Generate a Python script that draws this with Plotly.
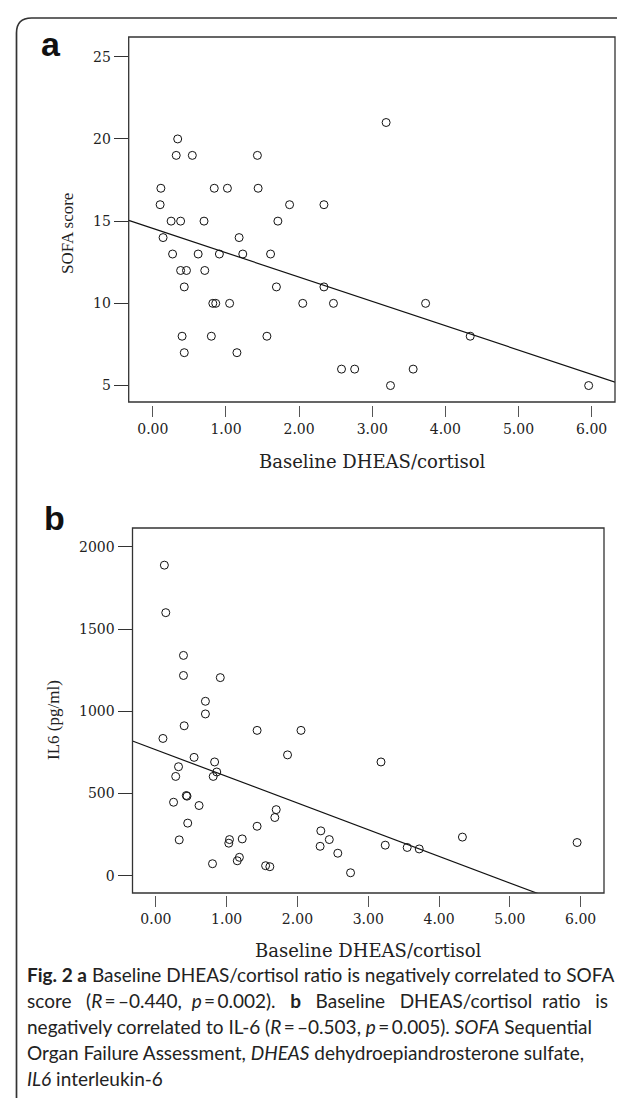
import plotly.graph_objects as go

W, H = 625, 1098

# ---------------- data: panel a ----------------
ratio_a = [3.19, 0.34, 0.32, 0.54, 1.43, 0.11, 0.84, 1.02, 1.44, 0.10, 1.87, 2.34,
           0.25, 0.38, 0.70, 1.71, 0.14, 1.18, 0.27, 0.62, 0.91, 1.23, 1.61,
           0.38, 0.46, 0.71, 0.43, 1.69, 2.34, 0.82, 0.86, 1.05, 2.05, 2.47, 3.73,
           0.40, 0.80, 1.56, 4.34, 0.43, 1.15, 2.58, 2.76, 3.56, 3.25, 5.96]
sofa = [21, 20, 19, 19, 19, 17, 17, 17, 17, 16, 16, 16,
        15, 15, 15, 15, 14, 14, 13, 13, 13, 13, 13,
        12, 12, 12, 11, 11, 11, 10, 10, 10, 10, 10, 10,
        8, 8, 8, 8, 7, 7, 6, 6, 6, 5, 5]
fit_a = [14.56, -1.48]  # intercept, slope

# ---------------- data: panel b ----------------
ratio_b = [0.12, 0.14, 0.39, 0.39, 0.91, 0.70, 0.70, 0.40, 1.43, 2.05, 0.10, 1.86,
           0.54, 0.83, 3.18, 0.32, 0.86, 0.28, 0.81, 0.43, 0.44, 0.25, 0.61, 1.70,
           1.68, 0.45, 1.43, 2.33, 0.33, 1.04, 1.22, 1.03, 2.45, 4.33, 5.95, 3.24,
           2.32, 3.55, 3.72, 2.57, 0.80, 1.18, 1.15, 1.55, 1.61, 2.75]
il6 = [1889, 1600, 1340, 1218, 1205, 1061, 984, 912, 884, 884, 835, 735,
       720, 692, 692, 663, 631, 604, 604, 488, 484, 447, 427, 402,
       354, 320, 301, 273, 218, 220, 224, 198, 220, 235, 202, 186,
       179, 172, 163, 137, 73, 112, 91, 61, 55, 18]
fit_b = [766, -162]

x_ticks = [0, 1, 2, 3, 4, 5, 6]
x_ticktext = ["0.00", "1.00", "2.00", "3.00", "4.00", "5.00", "6.00"]
ya_ticks = [5, 10, 15, 20, 25]
yb_ticks = [0, 500, 1000, 1500, 2000]

x_title = "Baseline DHEAS/cortisol"
ya_title = "SOFA score"
yb_title = "IL6 (pg/ml)"

S = "\u00a0"
G3 = S * 3
G2 = S * 2
caption_lines = [
    "<b>Fig. 2 a</b> Baseline DHEAS/cortisol ratio is negatively correlated to SOFA",
    "score" + G3 + "(<i>R</i>\u2009=\u2009\u20130.440," + G2 + "<i>p</i>\u2009=\u20090.002)."
    + G3 + "<b>b</b>" + G3 + "Baseline" + G3 + "DHEAS/cortisol" + G2 + "ratio" + G3 + "is",
    "negatively correlated to IL-6 (<i>R</i>\u2009=\u2009\u20130.503,"
    + S + "<i>p</i>\u2009=\u20090.005). <i>SOFA</i> Sequential",
    "Organ Failure Assessment, <i>DHEAS</i> dehydroepiandrosterone sulfate,",
    "<i>IL6</i> interleukin-6",
]


def px(x):
    return x / W


def py(y):
    return 1 - y / H


fig = go.Figure()

marker = dict(symbol="circle-open", size=8, color="#111", line=dict(width=1, color="#111"))

# panel a
fig.add_trace(go.Scatter(x=ratio_a, y=sofa, mode="markers", xaxis="x", yaxis="y",
                         marker=marker, showlegend=False, hoverinfo="skip"))
xa_rng = [-0.33, 6.32]
fig.add_trace(go.Scatter(x=xa_rng, y=[fit_a[0] + fit_a[1] * v for v in xa_rng],
                         mode="lines", xaxis="x", yaxis="y",
                         line=dict(color="#111", width=1.2), showlegend=False,
                         hoverinfo="skip"))

# panel b
fig.add_trace(go.Scatter(x=ratio_b, y=il6, mode="markers", xaxis="x2", yaxis="y2",
                         marker=marker, showlegend=False, hoverinfo="skip"))
xb_rng = [-0.33, 6.33]
fig.add_trace(go.Scatter(x=xb_rng, y=[fit_b[0] + fit_b[1] * v for v in xb_rng],
                         mode="lines", xaxis="x2", yaxis="y2",
                         line=dict(color="#111", width=1.2), showlegend=False,
                         hoverinfo="skip"))

tickfont = dict(family="DejaVu Serif", size=14, color="#222")
common_x = dict(showgrid=False, zeroline=False, showline=False, ticks="outside",
                ticklen=11, tickwidth=1.3, tickcolor="#555", tickvals=x_ticks,
                ticktext=x_ticktext, tickfont=tickfont, fixedrange=True)
common_y = dict(showgrid=False, zeroline=False, showline=False, ticks="outside",
                ticklen=14, tickwidth=1.3, tickcolor="#333", tickfont=tickfont,
                fixedrange=True)

fig.update_layout(
    width=W, height=H, margin=dict(l=0, r=0, t=0, b=0),
    paper_bgcolor="white", plot_bgcolor="white",
    xaxis=dict(domain=[px(120.7), px(607)], range=xa_rng, anchor="free",
               position=py(397), **common_x),
    yaxis=dict(domain=[py(394), py(29)], range=[4.0, 26.2], anchor="x",
               tickvals=ya_ticks, **common_y),
    xaxis2=dict(domain=[px(124.5), px(596)], range=xb_rng, anchor="free",
                position=py(887), **common_x),
    yaxis2=dict(domain=[py(885), py(520)], range=[-105, 2115], anchor="x2",
                tickvals=yb_ticks, **common_y),
)

shapes = [
    dict(type="rect", xref="x domain", yref="y domain", x0=0, x1=1, y0=0, y1=1,
         line=dict(color="#333", width=1.3)),
    dict(type="rect", xref="x2 domain", yref="y2 domain", x0=0, x1=1, y0=0, y1=1,
         line=dict(color="#333", width=1.3)),
    dict(type="path", xref="paper", yref="paper",
         path=(f"M {px(8.5)},{py(1120)} L {px(8.5)},{py(25)} "
               f"Q {px(8.5)},{py(10)} {px(23.5)},{py(10)} L {px(660)},{py(10)}"),
         line=dict(color="#333", width=1.7)),
]

annos = [
    dict(text="<b>a</b>", x=px(43), y=py(36), xref="paper", yref="paper", showarrow=False,
         font=dict(family="Liberation Sans", size=34, color="#111"),
         xanchor="center", yanchor="middle"),
    dict(text="<b>b</b>", x=px(46), y=py(510), xref="paper", yref="paper", showarrow=False,
         font=dict(family="Liberation Sans", size=34, color="#111"),
         xanchor="center", yanchor="middle"),
    dict(text=ya_title, x=px(60), y=py(226), xref="paper", yref="paper",
         showarrow=False, textangle=-90,
         font=dict(family="Liberation Serif", size=17, color="#222"),
         xanchor="center", yanchor="middle"),
    dict(text=yb_title, x=px(45), y=py(712), xref="paper", yref="paper",
         showarrow=False, textangle=-90,
         font=dict(family="Liberation Serif", size=17, color="#222"),
         xanchor="center", yanchor="middle"),
    dict(text=x_title, x=px(364), y=py(453), xref="paper", yref="paper",
         showarrow=False, font=dict(family="DejaVu Serif", size=18, color="#222"),
         xanchor="center", yanchor="middle"),
    dict(text=x_title, x=px(360), y=py(942), xref="paper", yref="paper",
         showarrow=False, font=dict(family="DejaVu Serif", size=18, color="#222"),
         xanchor="center", yanchor="middle"),
]
line_y = [966, 992, 1018, 1044, 1070]
for t, yy in zip(caption_lines, line_y):
    annos.append(dict(text=t, x=px(17), y=py(yy), xref="paper", yref="paper",
                      showarrow=False, xanchor="left", yanchor="middle", align="left",
                      font=dict(family="Lato", size=19, color="#222")))

fig.update_layout(shapes=shapes, annotations=annos)
fig.write_html("out.html")
